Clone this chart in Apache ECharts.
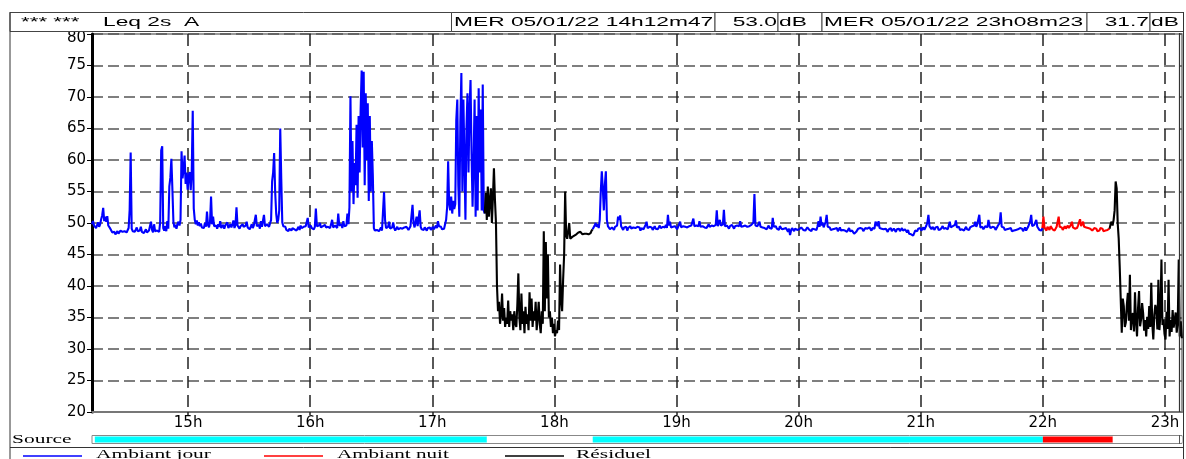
<!DOCTYPE html>
<html><head><meta charset="utf-8">
<script src="https://cdn.jsdelivr.net/npm/echarts@6/dist/echarts.min.js"></script>
<style>html,body{margin:0;padding:0;background:#fff}#chart{width:1186px;height:459px}</style>
</head><body><div id="chart"></div>
<script>
// ---------- data ----------
const STEP_SECONDS = 30;
const START_TIME = "14:12:47";
const END_TIME = "23:08:23";
const hourTicks = [15, 16, 17, 18, 19, 20, 21, 22, 23];
const levelMin = 20, levelMax = 80, levelStep = 5;

const headerLeft = ["*** ***", "Leq 2s  A"];
const startLabel = "MER 05/01/22 14h12m47";
const startValue = "53.0";
const endLabel = "MER 05/01/22 23h08m23";
const endValue = "31.7";
const unitLabel = "dB";
const sourceLabel = "Source";
const legendNames = ["Ambiant jour", "Ambiant nuit", "Résiduel"];

const jour1Start = "14:12:47";
const jour1 = [
49.8,50.3,49.6,49.9,49.2,49.5,50.1,49.4,49.8,50.6,
51.2,52.4,50.3,51,50.2,51.1,49.6,49.9,49.1,48.8,
48.5,48.3,48.6,48.2,48.5,48.7,48.3,48.4,48.8,48.5,
48.6,48.3,48.7,48.9,48.5,48.8,49.2,52.1,61.2,49.1,
48.7,49,48.6,48.9,49.3,48.7,48.5,48.8,49.4,48.6,
48.9,48.4,48.7,49,48.5,48.3,48.8,48.6,50.2,48.9,
48.5,49.8,48.7,48.4,48.8,49.1,48.6,50.1,61.5,62.2,
49.2,48.8,49.5,48.7,50.3,49.1,55.8,57.2,60.2,55.4,
50.2,49.3,49.7,49.1,49.8,50.2,49.6,50.5,61.4,57.1,
58.5,60.7,56.2,58,55.3,57.5,58.1,55.2,58,67.8,
52.3,50.5,49.8,50.4,49.6,50.1,49.5,49.9,49.3,49.6,
49.2,50,49.4,51.8,49.7,49.3,50.2,54.2,49.8,51,
49.5,49.2,49.6,49.1,49.8,49.4,50.3,49.2,49.5,49.7,
49.1,49.6,49.3,50.1,49.2,49.5,49.8,49.3,49.6,50.4,
49.2,49.7,52.5,49.6,49.3,49.1,49.5,49.2,49.8,49.4,
49.1,49.6,50.2,49.3,49.5,49,49.4,49.8,49.2,49.6,
49.3,51.3,49.5,49.2,49.7,49.1,50.3,49.4,49.6,51.3,
49.5,49.2,49.8,50,49.4,49.7,50.5,56.6,58,61.1,
55,51.5,50,50.5,52,65,57,50.1,49.5,49.2,
49.4,48.9,49.2,48.7,49.1,49.3,48.8,49.2,49.5,49,
49.3,48.8,49.1,49.4,48.9,49.6,49.2,49,49.4,49.1,
49.5,49.2,50.8,49.3,49.1,49.6,49.2,49.5,49,49.4,
52.3,49.5,49.2,49.6,50,49.3,49.1,49.5,49.2,49.7,
49.3,49,49.4,49.6,49.2,49.5,50.5,49.3,49.1,49.6,
49.4,49.2,51.5,49.6,49.3,49.8,49.2,50.3,49.5,49.3,
49.6,51.5,49.8,52.5,70.1,55,63,53,59.5,56,
65.6,54,67,58,68,74.2,62,74,56,70.6,
60,69,53.5,67,55,63,57.4,49.2,48.8,49.1,
48.9,49.2,48.7,49,49.3,48.8,49.1,54.9,50.5,49.2,
49,49.4,50.2,49.1,48.9,49.3,50.1,49.2,48.8,49.1,
49.4,49,48.8,49.2,49.5,49.1,48.9,49.3,49,49.4,
49.2,48.9,49.1,49.5,49.3,52.9,50,49.3,49.1,51,
49.5,49.2,52,49.4,49,49.2,48.9,49.3,49.1,48.8,
49.2,49,49.3,48.9,49.1,49.4,49,49.3,49.6,49.2,
50.3,49.5,49.2,49.4,49,49.3,49.1,49.4,50.5,52.5,
59.8,53,52,54.2,51.5,53.5,52.2,53,66.4,69.6,
56,51,66,73.8,55,69.6,60,50.5,65,70.6,
58,68,72.7,61,52.6,60,69.6,51,67,52,
71.4,58,68,52,72,52,51.5
];

const residuel1Start = "17:25:47";
const residuel1 = [
51.5,54.8,50.5,55.8,51,53.5,55.5,50,54,58.7,53.7,50,40,36,
37.5,34,35.5,38.8,34.5,36.5,33.5,35,34,37.7,
33.5,36,34.5,35.5,33,36,34,33.5,37,42,
35,33,38.8,34,36,32.5,36.7,34,35.5,33,
39,34.5,38,33.5,36,34.5,37.5,33,35,37.5,
34,32.5,36,34,48.7,36,47,38,45,35,
36,33.5,35,32.5,34,32,33,32.5,34.5,33,
43.4,38,36,41,45,55,48,47.5,47.4,50,
47.5,47.2,47.8,47.5,48,47.8,48.2,48,48.5,48.3,
48.6,48.4,48.2,48.5,48.3,48.1,48.3,48,48.2,48.5,
48.4,48.8,49
];

const jour2Start = "18:18:47";
const jour2 = [
49,49.3,49.6,50,49.4,49.8,49.2,50.5,
55,58.2,55.5,52,56,58.2,50.5,49.5,49.2,49,
48.8,49.3,49.1,48.9,49.4,49.2,49.6,51,50.5,51.2,
49.5,49.2,48.9,49.3,49.1,49.4,48.8,49.2,49,49.5,
49.1,48.9,49.3,49.6,49.2,48.9,49.4,49.1,49.3,48.8,
49.2,49.5,49,49.3,49.7,50.2,49.2,49,49.4,49.1,
49.3,48.9,49.2,49.5,49.1,49.4,49,49.3,49.6,49.2,
49,49.4,49.1,49.3,49.7,49.2,51.3,49.6,50.2,49.3,
49.1,49.4,49.2,49.5,49.3,49,49.4,49.6,50.2,49.3,
49.1,49.5,49.2,49.4,49.7,49.3,49.1,49.5,49.2,49.6,
49.4,50.7,49.5,49.2,49.6,49.3,49.5,50.3,49.4,49.2,
49.5,49.7,49.3,49.6,49.2,49.5,49.8,49.4,49.1,49.6,
49.3,49.5,49.2,49.7,52,49.5,49.3,50.5,49.6,49.4,
49.8,52.1,49.5,49.2,49.6,49.4,49.1,49.5,49.3,49.7,
49.4,49.1,49.5,49.2,49.6,49.3,49.5,50.3,49.4,49.2,
49.5,49.3,49.6,49.7,49.4,49.2,49.5,49.3,49.7,49.4,
50.1,54.6,49.6,49.3,49.5,49.2,50.2,49.4,49.1,49.3,
49.5,49.2,49.4,49,49.3,49.6,49.2,49.4,49.1,50.8,
49.4,49.2,49.5,49.1,49.3,48.9,49.5,49.2,49,49.3,
49.1,48.8,49.2,48.9,48.6,49.1,48.1,48.8,49.2,49,
48.7,49.1,49.3,48.9,49.2,49,48.8,49.3,49.1,48.9,
49.2,48.8,49,49.3,49.1,48.9,49.2,48.7,49.1,49.4,
49,49.2,48.9,49.5,50.3,49.4,51,49.6,50.1,49.3,
49.5,50.2,51.3,49.4,49.1,49.3,48.9,49.2,49,48.8,
49.1,48.9,49.2,48.7,49,49.3,48.8,49.1,48.9,49.2,
48.8,49,48.6,48.9,49.2,48.7,49,48.8,48.5,48.3,
48,48.6,48.9,49.1,48.8,49.2,48.9,49.1,48.7,49,
49.2,48.9,49.1,48.8,49.3,49,48.8,49.2,49.5,49.1,
50.2,50.5,49.5,50.3,49.2,48.9,49.1,48.8,49,48.7,
49.1,48.9,48.6,49,48.8,49.2,48.7,48.9,49.1,48.8,
48.6,49,48.8,49.1,48.7,48.9,49.2,48.8,48.6,49,
48.8,48.5,48.9,48.3,48.6,48.2,48.5,48,48.4,48.8,
49,48.7,49.1,48.9,49.2,48.8,49,49.3,48.9,49.2,
49.6,50.1,51.3,49.5,49.2,49,49.4,49.1,48.9,49.3,
49.1,49.4,48.9,49.2,49,49.3,49.5,49.1,48.8,49.2,
49.4,49,49.6,50.2,49.3,49.1,49.5,49.2,49.7,50.4,
49.3,49.1,49.4,48.9,49.2,49,49.3,48.8,49.1,49.4,
49,49.2,48.9,49.3,49.1,49.5,49.2,49.6,50.2,49.4,
49.8,49.5,51.3,49.3,49.1,49.4,49,49.2,49.5,49.8,
49.3,50.5,49.6,49.2,49,49.4,49.1,49.3,48.9,49.2,
49.5,49.3,50,51.7,49.4,49.1,49.3,48.9,49.2,49,
48.8,49.1,48.9,49.2,48.7,49,48.8,49.1,48.9,48.6,
49,48.8,49.2,48.9,49.1,48.7,49,49.3,48.8,49.1,
49.4,49.2,50.3,51.3,49.5,49.2,49.7,50.1,50.5,49.4,
49.1,48.9,49,48.8,49.2
];

const nuitStart = "21:59:47";
const nuit = [
49.2,51,49.3,49.1,48.8,49.4,
49.1,48.9,49.5,49.2,49,49.3,48.8,49.1,49.4,49.6,
51,49.4,49.1,49.3,48.9,49.2,49.5,49.1,49.3,49.6,
49.2,49.4,49.7,50.2,49.3,49.5,49.1,49.4,49.2,49.6,
49.4,50.6,49.5,49.3,50.2,49.4,49.1,49.3,49,49.2,
48.9,49.1,49.3,48.8,49,49.2,48.9,49.1,48.7,49,
48.8,49.2,48.9,49.1,48.7,49,48.8,49.1,48.9,49.2,
49.1
];

const residuel2Start = "22:32:47";
const residuel2 = [
49.1,49.8,50.2,49.6,50.5,52,56.6,55.5,50,47.5,
43,42.9,32.6,38,36.8,33.5,34.2,37,38.9,34.5,
41.8,33,35.2,35.7,32.8,39,34.4,32,36.5,39.2,
33.6,34.7,37.3,35.7,32.9,34.6,32,35.1,33.2,36.8,
33.5,40.5,34,31.5,35.4,37,36.2,33.1,41,33,
35.5,44.2,33.8,34.7,32.4,31.5,35.9,33.2,41,32,
34.6,32.7,36.2,33.4,33.6,35.8,32.6,34.1,44.2,32,
34.4,31.7
];

const sourceStarts = ["14:14:10", "17:26:49", "18:18:50", "22:00:00", "22:34:23"];
const sourceEnds   = ["17:26:49", "18:18:50", "22:00:00", "22:34:23", "23:08:23"];
const sourceKinds  = ["jour", "residuel", "jour", "nuit", "residuel"];

// ---------- helpers ----------
function toHours(t) { const p = t.split(":").map(Number); return p[0] + p[1] / 60 + p[2] / 3600; }
function build(start, values) {
  const t0 = toHours(start);
  return values.map((v, i) => [t0 + i * STEP_SECONDS / 3600, v]);
}
const COLORS = { jour: "#0000ff", nuit: "#ff0000", residuel: "#000000" };
const SOURCE_FILL = { jour: "#00ffff", nuit: "#ff0000", residuel: "#ffffff" };
const xMin = toHours(START_TIME), xMax = toHours(END_TIME);

const GL = 92, GR = 4, GT = 34, GH = 378;
const SANS = "Liberation Sans", SERIF = "Liberation Serif";

function lineSeries(name, key, start, values) {
  return {
    type: "line", name, data: build(start, values), xAxisIndex: 0, yAxisIndex: 0,
    showSymbol: false, symbol: "none", silent: true, animation: false, clip: true,
    lineStyle: { color: COLORS[key], width: 2.1, join: "bevel" }, itemStyle: { color: COLORS[key] }, z: 3
  };
}
function txt(x, y, text, font, sx, align, valign) {
  return { type: "text", x, y, scaleX: sx, silent: true, z: 10,
    style: { x: 0, y: 0, text, font, fill: "#000", align, textAlign: align,
      verticalAlign: valign || "middle", textVerticalAlign: valign || "middle" } };
}
function ln(x1, y1, x2, y2, stroke, w) {
  return { type: "line", silent: true, z: 9, shape: { x1, y1, x2, y2 }, style: { stroke, lineWidth: w } };
}
function box(x, y, w, h) {
  return { type: "rect", silent: true, z: 8, shape: { x, y, width: w, height: h },
    style: { fill: "#fff", stroke: "#444", lineWidth: 1 } };
}

const HF = "13px '" + SANS + "'";
const LF = "13px '" + SERIF + "'";
const HY = 22;

const graphics = [
  // outer frame
  ln(10, 12, 10, 459, "#333", 1),
  ln(1183.5, 12, 1183.5, 459, "#333", 1),
  // header
  box(10, 12.5, 1173.5, 19),
  box(451.5, 12.5, 263.5, 19), box(715, 12.5, 63, 19), box(778, 12.5, 44, 19),
  box(822, 12.5, 265, 19), box(1087, 12.5, 63, 19), box(1150, 12.5, 33.5, 19),
  txt(21, HY, headerLeft[0], HF, 1.72, "left"),
  txt(103, HY, headerLeft[1], HF, 1.75, "left"),
  txt(454, HY, startLabel, HF, 1.75, "left"),
  txt(777, HY, startValue, HF, 1.75, "right"),
  txt(779, HY, unitLabel, HF, 1.75, "left"),
  txt(824, HY, endLabel, HF, 1.75, "left"),
  txt(1149, HY, endValue, HF, 1.75, "right"),
  txt(1151, HY, unitLabel, HF, 1.75, "left"),
  // plot right double line
  ln(1179.5, 33, 1179.5, 412, "#333", 1.2),
  // source row
  txt(12, 440, sourceLabel, LF, 1.65, "left"),
  ln(1179.5, 435, 1179.5, 444, "#555", 1),
  // legend row
  ln(10, 447.5, 1183.5, 447.5, "#333", 1),
  ln(23, 456, 82, 456, COLORS.jour, 1.5),
  txt(96, 448, legendNames[0], LF, 1.65, "left", "top"),
  ln(264, 456, 323, 456, COLORS.nuit, 1.5),
  txt(337, 448, legendNames[1], LF, 1.62, "left", "top"),
  ln(505, 456, 564, 456, COLORS.residuel, 1.5),
  txt(576, 448, legendNames[2], LF, 1.65, "left", "top")
];

const sourceData = sourceStarts.map((s, i) => [toHours(s), toHours(sourceEnds[i]), i]);

const option = {
  animation: false,
  backgroundColor: "#fff",
  grid: [
    { left: GL, right: GR, top: GT, height: GH, show: true, borderColor: "#777", borderWidth: 1.5, backgroundColor: "transparent" },
    { left: GL, right: GR, top: 435.5, height: 8, show: true, borderColor: "#888", borderWidth: 1, backgroundColor: "transparent" }
  ],
  xAxis: [
    { type: "value", gridIndex: 0, min: xMin, max: xMax,
      axisLine: { show: true, lineStyle: { color: "#777", width: 2 } },
      axisTick: { show: true, length: 3, customValues: hourTicks, lineStyle: { color: "#222", width: 1.5 } },
      axisLabel: { customValues: hourTicks, formatter: v => Math.round(v) + "h", margin: 4,
        fontFamily: "DejaVu Sans", fontSize: 15, color: "#000" },
      splitLine: { show: true, lineStyle: { color: "#222", width: 1.5, type: [12, 7] } } },
    { type: "value", gridIndex: 1, min: xMin, max: xMax, show: false }
  ],
  yAxis: [
    { type: "value", gridIndex: 0, min: levelMin, max: levelMax, interval: levelStep,
      axisLine: { show: true, onZero: false, lineStyle: { color: "#000", width: 3 } },
      axisTick: { show: true, length: 5, lineStyle: { color: "#000", width: 1 } },
      axisLabel: { margin: 6, fontFamily: "DejaVu Sans", fontSize: 15, color: "#000",
        formatter: v => v === levelMax ? "{t|" + v + "}" : String(v),
        rich: { t: { fontFamily: "DejaVu Sans", fontSize: 15, color: "#000", padding: [9, 0, 0, 0] } } },
      splitLine: { show: true, lineStyle: { color: "#555", width: 1.5, type: [11, 5] } } },
    { type: "value", gridIndex: 1, min: 0, max: 1, show: false }
  ],
  graphic: { elements: graphics },
  series: [
    lineSeries(legendNames[0], "jour", jour1Start, jour1),
    lineSeries(legendNames[2], "residuel", residuel1Start, residuel1),
    lineSeries(legendNames[0], "jour", jour2Start, jour2),
    lineSeries(legendNames[1], "nuit", nuitStart, nuit),
    lineSeries(legendNames[2], "residuel", residuel2Start, residuel2),
    { type: "custom", name: sourceLabel, xAxisIndex: 1, yAxisIndex: 1, silent: true, animation: false,
      data: sourceData, encode: { x: [0, 1] },
      renderItem: (params, api) => {
        const a = api.coord([api.value(0), 1]);
        const b = api.coord([api.value(1), 0]);
        const kind = sourceKinds[api.value(2)];
        return { type: "rect", shape: { x: a[0], y: a[1] + 1, width: b[0] - a[0], height: b[1] - a[1] - 2 },
          style: { fill: SOURCE_FILL[kind] } };
      } }
  ]
};
const chart = echarts.init(document.getElementById("chart"), null, { renderer: "canvas" });
chart.setOption(option);
</script></body></html>
